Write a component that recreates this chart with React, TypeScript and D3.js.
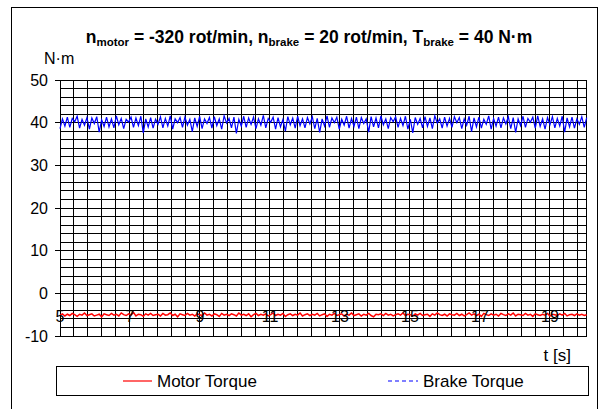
import React from "react";
import * as d3 from "d3";

// ---- data ----
const T0 = 5; // s, first sample
const DT = 0.07; // s, sample spacing
const brakeTorque = [
  38.6, 40.9, 39.2, 41.3, 38.9, 41.0, 40.2, 41.5, 38.7, 40.8, 39.4, 41.2, 38.5, 41.1, 39.8, 41.4, 37.8, 40.7, 39.1, 41.3,
  39.0, 40.9, 38.8, 41.6, 39.5, 41.0, 38.6, 40.8, 40.1, 41.3, 38.9, 41.1, 39.3, 41.5, 37.6, 40.9, 39.0, 41.2, 38.7, 40.8,
  39.6, 41.4, 38.8, 41.0, 39.2, 41.6, 38.5, 40.9, 40.0, 41.2, 38.9, 41.3, 39.4, 40.8, 37.9, 41.1, 39.1, 41.5, 38.6, 40.9,
  39.8, 41.2, 38.7, 41.4, 39.3, 40.9, 38.5, 41.6, 39.9, 41.0, 38.8, 41.3, 37.5, 40.8, 39.2, 41.5, 38.9, 41.1, 39.6, 41.3,
  38.6, 40.9, 39.4, 41.7, 38.8, 41.0, 40.1, 41.3, 38.5, 41.2, 39.0, 40.8, 38.0, 41.4, 39.5, 41.1, 38.7, 41.5, 39.3, 40.9,
  38.8, 41.2, 39.7, 41.4, 38.6, 41.0, 37.7, 40.9, 39.2, 41.6, 38.9, 41.1, 40.0, 41.3, 38.5, 40.8, 39.4, 41.5, 38.7, 41.0,
  39.1, 41.3, 38.6, 41.2, 39.8, 40.9, 37.8, 41.4, 39.0, 41.1, 38.8, 41.6, 39.5, 40.9, 38.6, 41.2, 40.2, 41.4, 38.9, 41.0,
  39.3, 41.5, 38.5, 40.8, 37.6, 41.2, 39.6, 41.0, 38.8, 41.4, 39.1, 41.1, 38.6, 41.6, 39.9, 40.9, 38.7, 41.3, 39.2, 41.0,
  38.9, 41.4, 40.0, 41.2, 38.6, 40.9, 39.4, 41.5, 37.9, 41.1, 39.0, 41.3, 38.7, 40.8, 39.6, 41.6, 38.5, 41.0, 39.2, 41.3,
  38.8, 41.1, 39.7, 41.4, 38.6, 41.2, 37.7, 40.9, 39.3, 41.5, 38.9, 41.0, 40.1, 41.3, 38.7, 41.6, 39.1, 40.9, 38.5, 41.2,
  39.5, 41.4, 38.8, 41.0, 39.2, 41.5, 37.8, 41.1, 39.0, 41.3, 38.7, 40.9, 39.6, 41.4, 38.9, 41.2,
];
const motorTorque = [
  -5.1, -4.8, -5.3, -4.9, -5.2, -4.7, -5.0, -5.4, -4.9, -5.1, -4.6, -5.2, -5.0, -4.8, -5.3, -5.1, -4.9, -5.5, -4.8, -5.0,
  -5.2, -4.7, -5.1, -4.9, -5.3, -4.6, -5.0, -5.2, -4.8, -5.1, -4.5, -5.3, -4.9, -5.0, -5.4, -4.8, -5.1, -4.7, -5.2, -5.0,
  -4.9, -5.3, -4.7, -5.1, -5.0, -4.6, -5.2, -4.9, -5.5, -4.8, -5.0, -5.2, -4.7, -5.1, -4.9, -5.3, -4.8, -5.0, -5.2, -4.6,
  -5.1, -4.9, -5.3, -4.8, -5.0, -5.4, -4.7, -5.1, -4.9, -5.2, -4.8, -5.0, -5.3, -4.6, -5.1, -4.9, -5.2, -4.8, -5.5, -5.0,
  -4.7, -5.2, -4.9, -5.1, -4.8, -5.3, -5.0, -4.6, -5.2, -4.9, -5.1, -4.7, -5.4, -5.0, -4.8, -5.2, -4.9, -5.1, -4.6, -5.3,
  -5.0, -4.8, -5.2, -4.9, -5.1, -4.7, -5.3, -5.0, -4.8, -5.4, -4.9, -5.1, -4.7, -5.2, -5.0, -4.8, -5.3, -4.9, -5.1, -4.6,
  -5.2, -5.0, -4.8, -5.3, -4.9, -5.1, -4.7, -5.2, -5.5, -4.9, -5.0, -4.8, -5.2, -4.7, -5.1, -4.9, -5.3, -5.0, -4.8, -5.1,
  -4.6, -5.2, -4.9, -5.0, -5.3, -4.8, -5.1, -4.7, -5.2, -5.0, -4.9, -5.4, -4.8, -5.1, -4.6, -5.0, -5.2, -4.9, -5.3, -4.8,
  -5.0, -5.1, -4.7, -5.2, -4.9, -5.3, -5.0, -4.6, -5.1, -4.8, -5.2, -4.9, -5.4, -4.7, -5.0, -5.2, -4.8, -5.1, -4.9, -5.3,
  -4.7, -5.0, -5.2, -4.8, -5.1, -4.6, -5.3, -4.9, -5.0, -5.2, -4.7, -5.1, -4.9, -5.4, -4.8, -5.0, -5.2, -4.9, -5.1, -4.7,
  -5.3, -4.9, -5.0, -5.2, -4.8, -5.1, -4.7, -5.3, -5.0, -4.9, -5.2, -4.8, -5.1, -4.9, -5.2, -5.0,
];
const xTickLabels = [5, 7, 9, 11, 13, 15, 17, 19];
const yTickLabels = [-10, 0, 10, 20, 30, 40, 50];
const X_DOMAIN = [5, 20.05];
const Y_DOMAIN = [-10, 50];
const X_GRID_STEP = 0.4;
const Y_GRID_STEP = 2;
const seriesNames = ["Motor Torque", "Brake Torque"];

const FONT = "'Liberation Sans', Arial, sans-serif";

export default function App() {
  const left = 60, right = 586.7, top = 80, bottom = 336;
  const x = d3.scaleLinear().domain(X_DOMAIN).range([left, right]);
  const y = d3.scaleLinear().domain(Y_DOMAIN).range([bottom, top]);

  const xGrid = d3.range(X_DOMAIN[0], X_DOMAIN[1] + 1e-9, X_GRID_STEP);
  const yGrid = d3.range(Y_DOMAIN[0], Y_DOMAIN[1] + 1e-9, Y_GRID_STEP);

  const line = d3
    .line<number>()
    .x((_, i) => x(T0 + i * DT))
    .y((d) => y(d));

  const y0 = y(0);

  return (
    <svg
      width={604}
      height={409}
      style={{ position: "absolute", left: 0, top: 0, background: "#fff" }}
      fontFamily={FONT}
    >
      <rect x={0} y={0} width={604} height={409} fill="#fff" />
      {/* outer frame */}
      <rect x={11.5} y={7.5} width={586} height={420} fill="none" stroke="#000" strokeWidth={1} />

      {/* title */}
      <text x={309} y={43} textAnchor="middle" fontSize={17.5} fontWeight="bold" fill="#000">
        <tspan>n</tspan>
        <tspan fontSize={11.5} dy={3}>motor</tspan>
        <tspan dy={-3}> = -320 rot/min, n</tspan>
        <tspan fontSize={11.5} dy={3}>brake</tspan>
        <tspan dy={-3}> = 20 rot/min, T</tspan>
        <tspan fontSize={11.5} dy={3}>brake</tspan>
        <tspan dy={-3}> = 40 N·m</tspan>
      </text>

      {/* y unit */}
      <text x={44} y={64} fontSize={16} fill="#000">N·m</text>

      {/* grid */}
      <g shapeRendering="crispEdges" stroke="#000" strokeWidth={1}>
        {xGrid.map((v, i) => (
          <line key={"xg" + i} x1={x(v)} x2={x(v)} y1={top} y2={bottom} />
        ))}
        <line x1={right} x2={right} y1={top} y2={bottom} />
        {yGrid.map((v, i) => (
          <line key={"yg" + i} x1={left} x2={right} y1={y(v)} y2={y(v)} />
        ))}
      </g>

      {/* axes */}
      <g shapeRendering="crispEdges" stroke="#000">
        <line x1={left} x2={left} y1={top} y2={bottom} />
        {yTickLabels.map((v) => (
          <line key={"yt" + v} x1={left - 5} x2={left} y1={y(v)} y2={y(v)} />
        ))}
        {xTickLabels.map((v) => (
          <line key={"xt" + v} x1={x(v)} x2={x(v)} y1={y0} y2={y0 + 5} />
        ))}
        <line x1={left} x2={right} y1={y0} y2={y0} />
      </g>
      {yTickLabels.map((v) => (
        <text key={"yl" + v} x={48} y={y(v) + 5.5} textAnchor="end" fontSize={16} fill="#000">
          {v}
        </text>
      ))}

      {/* series */}
      <path d={line(brakeTorque) || ""} fill="none" stroke="#0000ff" strokeWidth={1.2} />
      <path d={line(motorTorque) || ""} fill="none" stroke="#ff0000" strokeWidth={1.5} />

      {/* x tick labels */}
      {xTickLabels.map((v) => (
        <text key={"xl" + v} x={x(v)} y={y0 + 29} textAnchor="middle" fontSize={16} fill="#000">
          {v}
        </text>
      ))}

      <text x={571} y={361} textAnchor="end" fontSize={17} fill="#000">t [s]</text>

      {/* legend */}
      <rect x={56.5} y={366.5} width={532} height={29} fill="#fff" stroke="#000" strokeWidth={1} shapeRendering="crispEdges" />
      <line x1={123} x2={152} y1={381} y2={381} stroke="#ff0000" strokeWidth={1.2} />
      <text x={157} y={387} fontSize={17} fill="#000">{seriesNames[0]}</text>
      <line x1={388} x2={418} y1={381} y2={381} stroke="#0000ff" strokeWidth={1.2} strokeDasharray="4,3" />
      <text x={423} y={387} fontSize={17} fill="#000">{seriesNames[1]}</text>
    </svg>
  );
}
